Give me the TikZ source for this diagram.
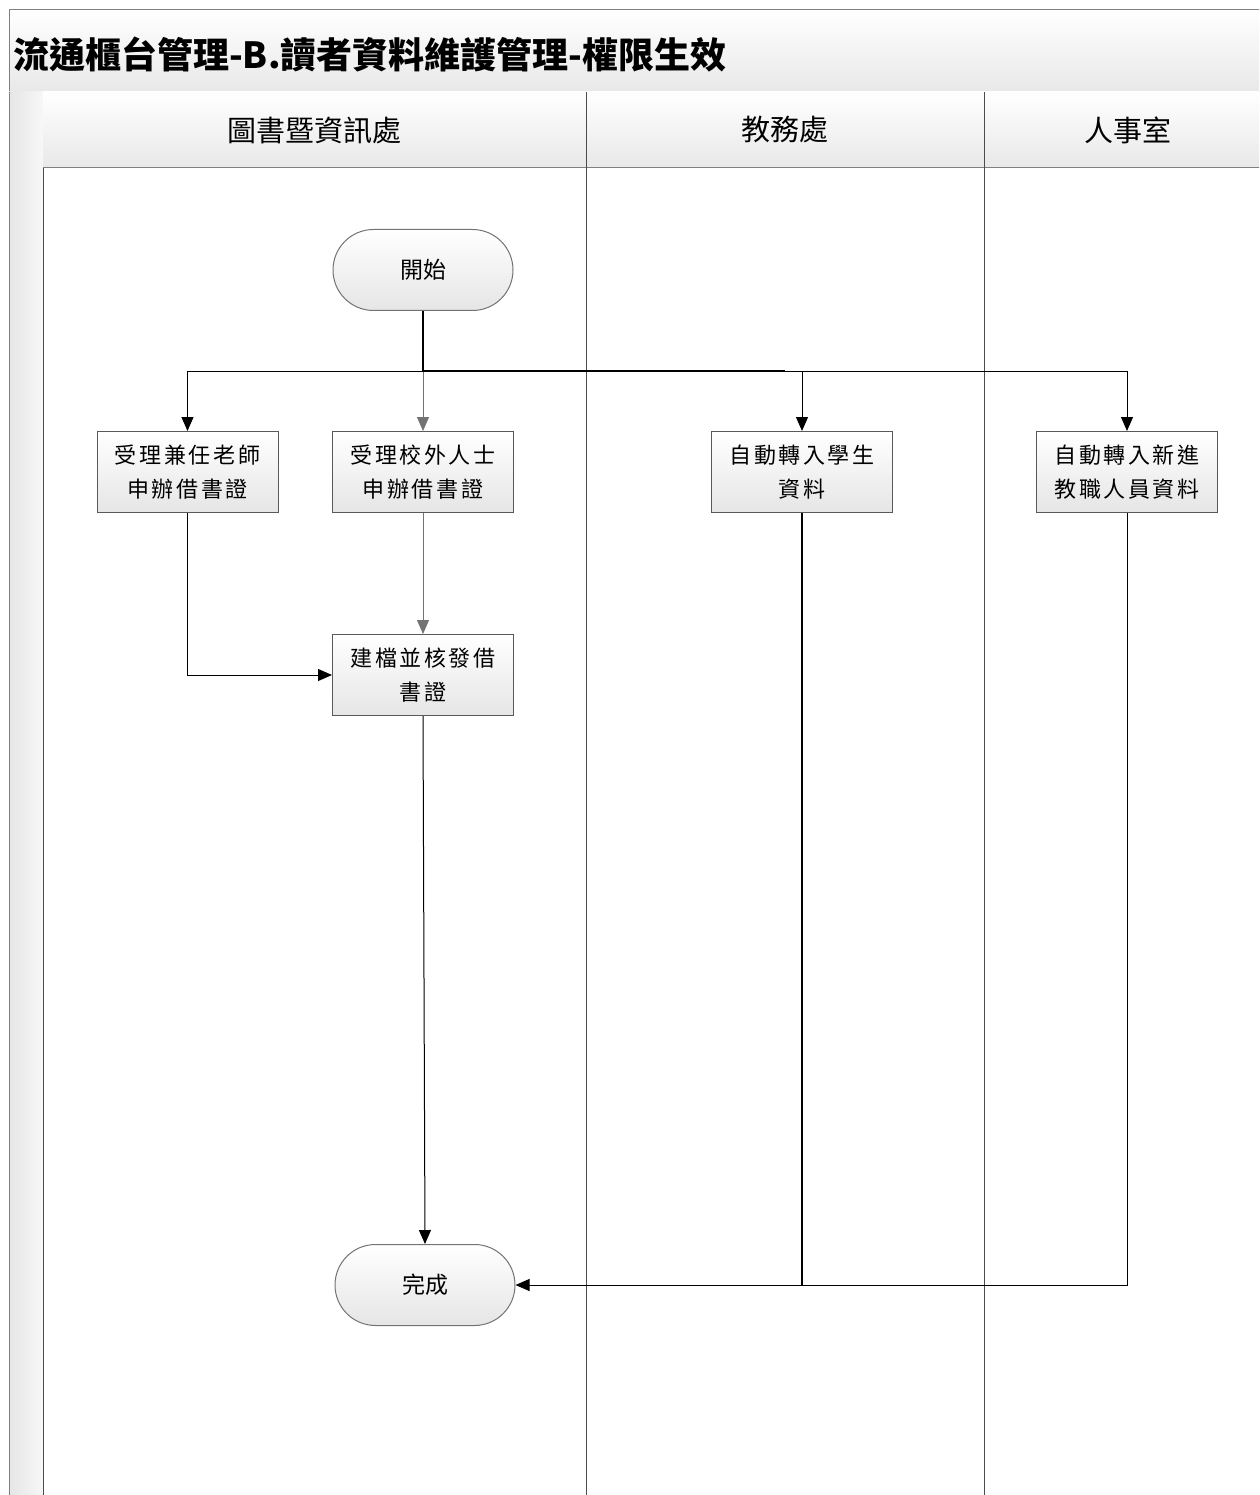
\documentclass[tikz,border=0pt]{standalone}
\usepackage{fontspec}
\usetikzlibrary{arrows.meta,shapes.misc}
\newfontfamily\cjk{Noto Sans CJK TC}
\newfontfamily\cjkls{Noto Sans CJK TC}[LetterSpace=12]
\tikzset{
  frameline/.style={draw=black!50, line width=1pt},
  laneline/.style={draw=black!70, line width=1pt},
  procbox/.style={rectangle, draw=black!65, line width=1pt, top color=white, bottom color=black!10,
    minimum width=181pt, minimum height=81pt, align=center, inner sep=0pt,
    font=\cjkls\fontsize{22}{34}\selectfont},
  termbox/.style={rounded rectangle, draw=black!55, line width=1pt, top color=white, bottom color=black!10,
    minimum width=180pt, minimum height=81pt, inner sep=0pt, font=\cjk\fontsize{23}{26}\selectfont},
  lanehead/.style={font=\cjk\fontsize{29}{32}\selectfont},
  flow/.style={line width=1pt, draw=black, -{Triangle[length=14pt,width=12pt]}},
  grayflow/.style={line width=1pt, draw=black!55, -{Triangle[length=14pt,width=12pt]}},
  thickline/.style={line width=2pt, draw=black},
}
\begin{document}
\begin{tikzpicture}[x=1pt,y=-1pt]
\useasboundingbox (0,0) rectangle (1259,1495);
\clip (0,0) rectangle (1259,1495);
% title band
\path[top color=white, bottom color=black!9] (9,10) rectangle (1275,92);
\draw[frameline] (9,1500) -- (9,10) -- (1275,10);
\draw[frameline] (9,92) -- (1275,92);
% left strip
\path[left color=black!10, right color=black!3] (9,92) rectangle (43,1500);
\draw[frameline] (9,92) -- (9,1500);
\draw[laneline] (43,92) -- (43,1500);
% header row
\path[top color=white, bottom color=black!9] (43,92) rectangle (1275,168);
\draw[frameline] (43,168) -- (1275,168);
% lane separators
\draw[laneline] (586,92) -- (586,1500);
\draw[laneline] (984,92) -- (984,1500);
% title
\node[anchor=west, inner sep=0pt, font=\cjk\bfseries\fontsize{36}{40}\selectfont] (title) at (13,55) {流通櫃台管理-B.讀者資料維護管理-權限生效};
% lane headers
\node[lanehead] (h1) at (314,130) {圖書暨資訊處};
\node[lanehead] (h2) at (785,130) {教務處};
\node[lanehead] (h3) at (1128,130) {人事室};
% nodes
\node[termbox] (start) at (423,270) {開始};
\node[procbox] (A) at (187.5,472) {受理兼任老師\\申辦借書證};
\node[procbox] (B) at (423,472) {受理校外人士\\申辦借書證};
\node[procbox] (C) at (802,472) {自動轉入學生\\資料};
\node[procbox] (D) at (1127,472) {自動轉入新進\\教職人員資料};
\node[procbox] (E) at (423,675) {建檔並核發借\\書證};
\node[termbox] (F) at (425,1285) {完成};
% connectors
\coordinate (j) at (423,371);
\coordinate (jt) at (785,371);
\draw[flow] (j) -| (A.north);
\draw[flow] (j) -| (C.north);
\draw[flow] (j) -| (D.north);
\draw[grayflow] (j) -- (B.north);
\draw[thickline] (start.south) -- (j);
\draw[thickline] (j) -- (jt);
\draw[flow] (A.south) |- (E.west);
\draw[grayflow] (B.south) -- (E.north);
\draw[flow] (E.south) -- (F.north);
\draw[line width=1.6pt] (C.south) -- (C.south |- F.east);
\draw[flow] (D.south) |- (F.east);
\end{tikzpicture}
\end{document}
